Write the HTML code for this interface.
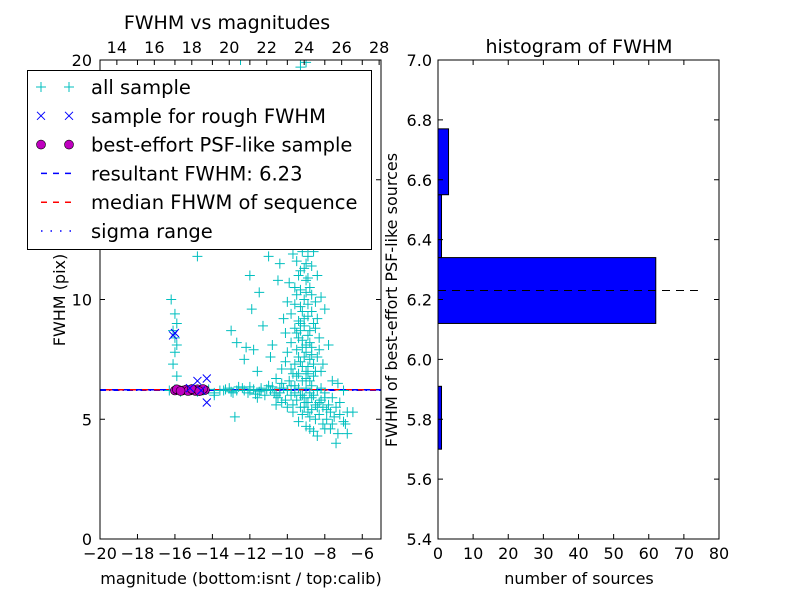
<!DOCTYPE html>
<html><head><meta charset="utf-8"><style>
body{margin:0;background:#fff}
svg text{font-family:"DejaVu Sans","Liberation Sans",sans-serif;fill:#000}
</style></head><body>
<svg id="fig" width="800" height="600" xmlns="http://www.w3.org/2000/svg">
<rect width="800" height="600" fill="#fff"/>
<g id="left"></g>
<g id="right"></g>
</svg>
<script>
const allSample=[[-16.3,6.2],[-16.0,6.25],[-15.7,6.15],[-15.4,6.2],[-15.1,6.25],[-14.8,6.15],[-14.5,6.2],[-14.2,6.25],[-13.9,6.1],[-13.6,6.2],[-13.3,6.25],[-13.0,6.15],[-12.7,6.2],[-12.4,6.3],[-12.1,6.1],[-11.8,6.25],[-11.5,6.15],[-13.9,6.0],[-12.6,6.35],[-11.2,6.0],[-11.0,6.4],[-10.7,6.1],[-10.5,5.9],[-10.3,6.5],[-10.1,5.8],[-9.9,6.6],[-9.7,5.6],[-9.5,6.8],[-9.3,5.5],[-9.1,5.9],[-8.9,5.3],[-8.7,6.4],[-8.5,5.0],[-8.3,5.7],[-8.1,4.8],[-7.9,5.4],[-7.7,4.6],[-7.5,5.1],[-7.2,5.2],[-7.0,4.9],[-6.8,5.3],[-6.5,5.3],[-6.8,4.4],[-9.0,7],[-8.8,7.5],[-9.2,8],[-8.9,8.5],[-9.3,9],[-8.7,9.5],[-9.1,10],[-8.8,10.5],[-9.4,11],[-9.0,11.5],[-8.6,12],[-9.6,7.3],[-9.8,8.2],[-10.2,9.2],[-10.5,10.8],[-11.0,11.8],[-10.0,7.8],[-9.5,10.2],[-8.5,8.8],[-8.3,7.9],[-8.2,7.0],[-8.6,6.8],[-9.7,6.9],[-10.1,7.4],[-10.8,8.1],[-11.3,8.9],[-12.2,8.0],[-11.6,7.0],[-12.3,7.5],[-7.8,8.1],[-8.0,9.6],[-8.4,11.0],[-8.9,11.8],[-9.3,11.2],[-9.6,9.8],[-9.9,10.7],[-10.4,11.5],[-7.6,6.6],[-7.3,6.5],[-7.0,6.2],[-9.2,7.2],[-9.0,7.8],[-8.8,8.2],[-9.1,8.9],[-8.9,9.3],[-9.3,9.7],[-8.7,10.2],[-9.0,10.8],[-9.2,6.6],[-8.9,6.9],[-9.4,7.6],[-8.6,7.3],[-9.5,8.6],[-8.4,9.2],[-9.8,9.4],[-9.6,6.4],[-9.3,6.0],[-9.0,5.7],[-8.7,5.9],[-8.4,5.5],[-8.8,5.1],[-9.2,5.2],[-8.0,5.9],[-8.2,6.3],[-9.8,6.0],[-10.4,6.3],[-10.9,6.2],[-11.4,6.3],[-12.0,6.2],[-10.6,5.6],[-11.6,5.9],[-9.4,4.9],[-8.6,4.5],[-7.4,4.0],[-6.9,4.8],[-12.5,20],[-9.3,20],[-9.0,19.9],[-9.3,19.7],[-16.2,10],[-16.0,9.4],[-15.9,9.0],[-16.1,8.7],[-16.0,8.4],[-15.9,8.1],[-16.0,7.8],[-16.1,7.3],[-15.9,6.8],[-13.0,8.7],[-12.8,5.1],[-14.8,11.8],[-12.0,11.0],[-11.5,10.3],
[-13.4,6.2],[-13.1,6.3],[-12.9,6.1],[-12.3,6.2],[-12.0,6.35],[-11.7,6.05],[-11.4,6.2],[-11.1,6.25],[-10.8,6.35],[-10.6,6.0],[-10.4,6.1],[-10.2,6.3],[-10.0,6.2],[-9.8,6.4],[-9.6,6.1],[-9.4,6.3],[-9.2,6.0],[-9.0,6.3],[-8.8,6.1],[-8.6,6.0],[-8.4,6.2],[-8.2,5.8],[-8.0,6.1],[-7.8,5.6],[-7.6,5.9],[-7.4,5.5],[-7.2,5.7],[-9.5,5.8],[-9.1,5.5],[-8.9,5.7],[-8.7,5.4],[-8.5,5.6],[-8.3,5.2],[-8.1,5.5],[-7.9,5.0],[-7.7,5.3],[-9.7,5.3],[-10.0,5.5],[-10.3,5.7],[-9.0,4.7],[-8.8,4.6],[-8.4,4.3],[-8.0,4.6],[-7.6,4.8],[-7.3,4.4],
[-9.3,7.4],[-9.1,7.6],[-8.9,7.2],[-8.7,7.7],[-9.5,7.9],[-9.2,8.3],[-9.0,8.1],[-8.8,8.7],[-9.4,8.4],[-9.6,8.8],[-9.1,9.2],[-8.9,9.8],[-9.2,9.5],[-9.4,9.1],[-8.6,9.0],[-8.5,9.9],[-9.0,10.3],[-9.3,10.4],[-8.9,10.9],[-9.1,11.3],[-9.5,11.6],[-8.7,11.4],[-8.8,6.6],[-9.0,6.7],[-9.4,6.9],[-8.5,7.0],[-8.4,7.6],[-8.3,8.4],[-8.1,7.3],[-8.9,12.2],[-9.2,12.0],[-9.7,11.9],[-10.1,8.6],[-10.3,7.1],[-10.6,6.7],[-10.9,7.6],[-11.8,7.9],[-12.7,8.2],[-11.9,9.6],[-9.8,7.1],[-10.0,9.9],[-8.7,8.0],[-9.3,8.7],[-9.6,10.5],[-8.2,10.1]];
const roughSample=[[-16.0,8.6],[-16.1,8.5],[-14.8,6.6],[-14.3,6.7],[-14.3,5.7],[-15.2,6.3],[-14.6,6.2]];
const psfSample=[[-16.0,6.2],[-15.8,6.22],[-15.6,6.2],[-15.4,6.24],[-15.2,6.2],[-15.0,6.22],[-14.8,6.25],[-14.6,6.2],[-14.4,6.22],[-15.9,6.25],[-15.3,6.18],[-14.9,6.18],[-14.5,6.26],[-15.7,6.18],[-15.1,6.26],[-14.7,6.17]];
const fwhmResult=6.23, fwhmMedian=6.23, sigmaVal=6.21;
const histBins=[5.70,5.91,6.12,6.34,6.55,6.77];
const histCounts=[1,0,62,1,3];
const NS="http://www.w3.org/2000/svg";
function el(p,t,a){const e=document.createElementNS(NS,t);for(const k in a)e.setAttribute(k,a[k]);p.appendChild(e);return e;}
const L={x0:100,x1:381,y0:539,y1:60};
const lx=v=>L.x0+(v+20)/15*(L.x1-L.x0);
const ly=v=>L.y0-v/20*(L.y0-L.y1);
const left=document.getElementById('left');
function tx(p,x,y,s,o){const t=el(p,'text',Object.assign({x:x,y:y,'font-size':16,'text-anchor':'middle'},o||{}));t.textContent=s;return t;}
let ln=el(left,'line',{x1:L.x0,x2:L.x1,y1:ly(sigmaVal),y2:ly(sigmaVal),stroke:'#00f','stroke-width':1.5,'stroke-dasharray':'6,3,1.5,3'});

ln=el(left,'line',{x1:L.x0,x2:L.x1,y1:ly(fwhmResult),y2:ly(fwhmResult),stroke:'#00f','stroke-width':1.5,'stroke-dasharray':'6,6'});

ln=el(left,'line',{x1:L.x0,x2:L.x1,y1:ly(fwhmMedian),y2:ly(fwhmMedian),stroke:'#f00','stroke-width':1.5,'stroke-dasharray':'6,6','stroke-dashoffset':6});

const gAll=el(left,'g',{stroke:'#00bfbf','stroke-width':1});

allSample.forEach(p=>{const x=lx(p[0]),y=ly(p[1]);const m=el(gAll,'path',{d:`M${x-5},${y}H${x+5}M${x},${y-5}V${y+5}`});
});
const gPsf=el(left,'g',{fill:'#bf00bf',stroke:'#000','stroke-width':0.6});

psfSample.forEach(p=>{const c=el(gPsf,'circle',{cx:lx(p[0]),cy:ly(p[1]),r:4.5});
});
const gRough=el(left,'g',{stroke:'#00f','stroke-width':1});

roughSample.forEach(p=>{const x=lx(p[0]),y=ly(p[1]);const m=el(gRough,'path',{d:`M${x-4},${y-4}L${x+4},${y+4}M${x-4},${y+4}L${x+4},${y-4}`});
});
el(left,'rect',{x:0,y:0,width:800,height:L.y1,fill:'#fff'});
let fr=el(left,'rect',{x:L.x0,y:L.y1,width:L.x1-L.x0,height:L.y0-L.y1,fill:'none',stroke:'#000','stroke-width':1});

const xt=[-20,-18,-16,-14,-12,-10,-8,-6];
xt.forEach(v=>{const x=lx(v);el(left,'path',{d:`M${x},${L.y0}v-5M${x},${L.y1}v5`,stroke:'#000'});
const t=tx(left,x,L.y0+20,'\u2212'+(-v));});
const topT=[14,16,18,20,22,24,26,28];
topT.forEach(v=>{const x=lx(v-33.1);el(left,'path',{d:`M${x},${L.y1}v5`,stroke:'#000'});
const t=tx(left,x,L.y1-7,String(v));});
const yt=[0,5,10,15,20];
yt.forEach(v=>{const y=ly(v);el(left,'path',{d:`M${L.x0},${y}h5M${L.x1},${y}h-5`,stroke:'#000'});
const t=tx(left,L.x0-8,y+6,String(v),{'text-anchor':'end'});});
let t=tx(left,241,584,'magnitude (bottom:isnt / top:calib)');
t=tx(left,65,300,'FWHM (pix)',{transform:'rotate(-90 65 300)'});
t=tx(left,227,29,'FWHM vs magnitudes',{'font-size':19});
const lg=el(left,'g',{});
el(lg,'rect',{x:27.5,y:70.5,width:344,height:179,fill:'#fff',stroke:'#000'});
const names=['all sample','sample for rough FWHM','best-effort PSF-like sample','resultant FWHM: 6.23','median FHWM of sequence','sigma range'];
names.forEach((n,i)=>{const y=87+i*28.8;const g=el(lg,'g',{});
if(i==0)[41,69].forEach(x=>el(g,'path',{d:`M${x-5},${y}H${x+5}M${x},${y-5}V${y+5}`,stroke:'#00bfbf'}));
if(i==1)[41,69].forEach(x=>el(g,'path',{d:`M${x-4},${y-4}L${x+4},${y+4}M${x-4},${y+4}L${x+4},${y-4}`,stroke:'#00f'}));
if(i==2)[41,69].forEach(x=>el(g,'circle',{cx:x,cy:y,r:4.5,fill:'#bf00bf',stroke:'#000','stroke-width':0.6}));
if(i==3)el(g,'line',{x1:41,x2:71,y1:y,y2:y,stroke:'#00f','stroke-width':1.5,'stroke-dasharray':'6,6'});
if(i==4)el(g,'line',{x1:41,x2:71,y1:y,y2:y,stroke:'#f00','stroke-width':1.5,'stroke-dasharray':'6,6'});
if(i==5)el(g,'line',{x1:41,x2:71,y1:y,y2:y,stroke:'#00f','stroke-width':1.5,'stroke-dasharray':'1.5,8'});
tx(g,91,y+7,n,{'text-anchor':'start','font-size':19.5});});
const R={x0:438,x1:719,y0:539,y1:60};
const rx=v=>R.x0+v/80*(R.x1-R.x0);
const ry=v=>R.y0-(v-5.4)/1.6*(R.y0-R.y1);
const right=document.getElementById('right');
histCounts.forEach((c,i)=>{if(!c)return;const b=el(right,'rect',{x:rx(0),y:ry(histBins[i+1]),width:rx(c)-rx(0),height:ry(histBins[i])-ry(histBins[i+1]),fill:'#00f',stroke:'#000','stroke-width':1});
});
ln=el(right,'line',{x1:rx(0),x2:rx(74),y1:ry(fwhmResult),y2:ry(fwhmResult),stroke:'#000','stroke-width':1,'stroke-dasharray':'8,6'});

fr=el(right,'rect',{x:R.x0,y:R.y1,width:R.x1-R.x0,height:R.y0-R.y1,fill:'none',stroke:'#000'});

[0,10,20,30,40,50,60,70,80].forEach(v=>{const x=rx(v);el(right,'path',{d:`M${x},${R.y0}v-5M${x},${R.y1}v5`,stroke:'#000'});
const t=tx(right,x,R.y0+20,String(v));});
['5.4','5.6','5.8','6.0','6.2','6.4','6.6','6.8','7.0'].forEach(s=>{const y=ry(parseFloat(s));el(right,'path',{d:`M${R.x0},${y}h5M${R.x1},${y}h-5`,stroke:'#000'});
const t=tx(right,R.x0-6,y+6,s,{'text-anchor':'end'});});
t=tx(right,579,584,'number of sources');
t=tx(right,397,300,'FWHM of best-effort PSF-like sources',{transform:'rotate(-90 397 300)'});
t=tx(right,579,53,'histogram of FWHM',{'font-size':19});
</script>
</body></html>
